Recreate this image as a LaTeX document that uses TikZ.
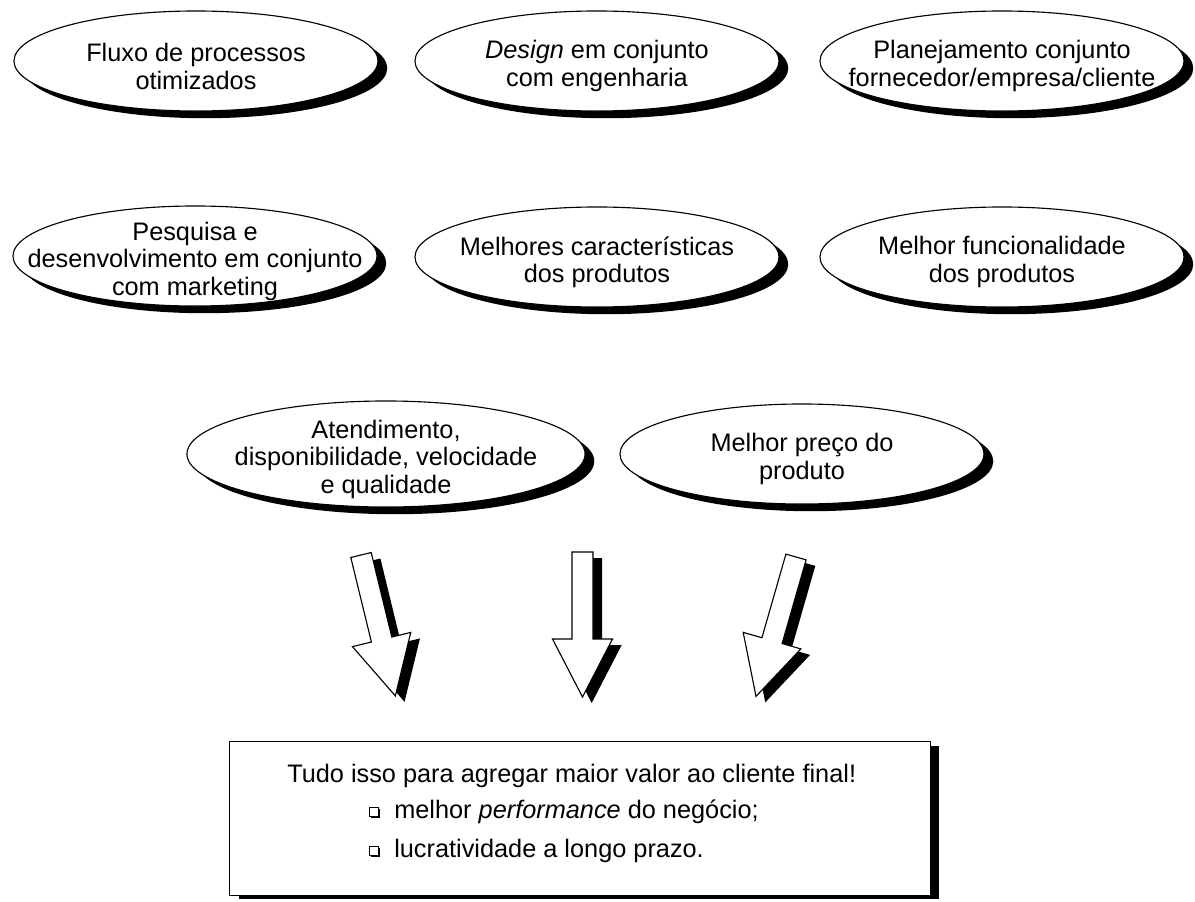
\documentclass[tikz,border=0pt]{standalone}
\usepackage{fontspec}
\setmainfont{Liberation Sans}
\usetikzlibrary{shapes.geometric,shadows}

\tikzset{
  bubble/.style={ellipse, draw, line width=0.8pt, fill=white, inner sep=0pt,
    minimum width=9.1cm, minimum height=2.5cm,
    drop shadow={shadow xshift=0.23cm, shadow yshift=-0.18cm, opacity=1, fill=black}},
  txt/.style={align=center, inner sep=0pt, yshift=-0.13cm, font=\fontsize{18}{19.6}\selectfont},
  goalbox/.style={rectangle, draw, line width=0.8pt, fill=white, inner sep=0pt,
    minimum width=17.5cm, minimum height=3.83cm,
    drop shadow={shadow xshift=0.23cm, shadow yshift=-0.1cm, opacity=1, fill=black}},
  tick/.style={rectangle, draw, fill=white, inner sep=0pt, minimum size=0.22cm,
    drop shadow={shadow xshift=0.04cm, shadow yshift=-0.04cm, opacity=1, fill=black}},
  item/.style={anchor=west, inner sep=0pt, font=\fontsize{18}{19.6}\selectfont}
}

\begin{document}
\begin{tikzpicture}[x=0.025cm, y=-0.025cm]
  \useasboundingbox (0,0) rectangle (1195,901);
  % arrow sizes
  \def\sw{10.5}
  \def\hw{30}
  \def\sl{87}
  \def\tl{145}

  % first row
  \node[bubble] (fluxo) at (196,61) {};
  \node[txt] at (fluxo) {Fluxo de processos\\otimizados};
  \node[bubble] (design) at (597,61) {};
  \node[txt] at (design) {\textit{Design} em conjunto\\com engenharia};
  \node[bubble] (plan) at (1002,61) {};
  \node[txt] at (plan) {Planejamento conjunto\\fornecedor/empresa/cliente};

  % second row
  \node[bubble] (pesq) at (195,256) {};
  \node[txt] at (pesq) {Pesquisa e\\desenvolvimento em conjunto\\com marketing};
  \node[bubble] (carac) at (597,257) {};
  \node[txt] at (carac) {Melhores características\\dos produtos};
  \node[bubble] (func) at (1002,257) {};
  \node[txt] at (func) {Melhor funcionalidade\\dos produtos};

  % third row
  \node[bubble, minimum width=9.95cm, minimum height=2.65cm] (atend) at (386,454) {};
  \node[txt] at (atend) {Atendimento,\\disponibilidade, velocidade\\e qualidade};
  \node[bubble] (preco) at (802,454) {};
  \node[txt] at (preco) {Melhor preço do\\produto};

  % block arrows
  \foreach \x/\y/\a in {361/555/13.7, 582.5/552/0, 796/557/-16}{
    \begin{scope}[xshift=0.23cm, yshift=-0.15cm]
      \fill[black, shift={(\x,\y)}, rotate=\a] (-\sw,0) -- (\sw,0) -- (\sw,\sl) -- (\hw,\sl)
        -- (0,\tl) -- (-\hw,\sl) -- (-\sw,\sl) -- cycle;
    \end{scope}
    \draw[line width=0.8pt, fill=white, shift={(\x,\y)}, rotate=\a] (-\sw,0) -- (\sw,0) -- (\sw,\sl) -- (\hw,\sl)
      -- (0,\tl) -- (-\hw,\sl) -- (-\sw,\sl) -- cycle;
  }

  % result box
  \node[goalbox] (goal) at (580,818.5) {};
  \node[item] (head) at (287,776) {Tudo isso para agregar maior valor ao cliente final!};
  \node[tick] (b1) at (374,812) {};
  \node[item] (i1) at (394,812) {melhor \textit{performance} do negócio;};
  \node[tick] (b2) at (374,851) {};
  \node[item] (i2) at (394,851) {lucratividade a longo prazo.};
\end{tikzpicture}
\end{document}
